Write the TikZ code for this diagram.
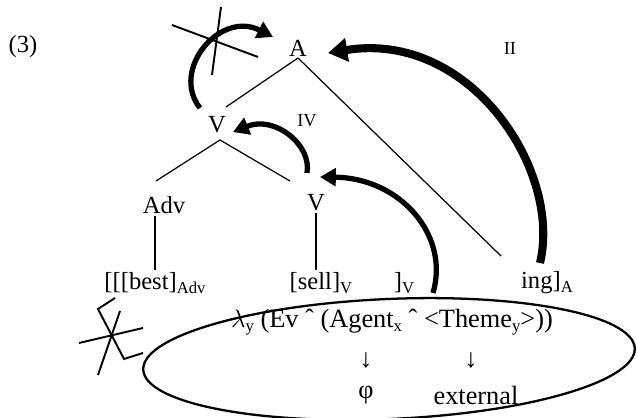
\documentclass[tikz,border=0pt]{standalone}
\usepackage{fontspec}
\setmainfont{Liberation Serif}
\usetikzlibrary{arrows.meta}

\newcommand{\lowidx}[1]{\raisebox{-0.35ex}{\fontsize{9.5}{9.5}\selectfont #1}}

\tikzset{
  lbl/.style={inner sep=1pt, font=\fontsize{14}{16}\selectfont},
  sem/.style={inner sep=1pt, font=\fontsize{15}{17}\selectfont},
  roman/.style={inner sep=1pt, font=\fontsize{10.5}{12}\selectfont},
  tree/.style={line width=0.7pt},
  strike/.style={line width=1.1pt},
  move/.style={line width=3pt, -{Triangle[length=9pt,width=10pt]}},
  bigmove/.style={line width=4.6pt, -{Triangle[length=11pt,width=13pt]}},
}

\begin{document}
\begin{tikzpicture}[x=0.02cm, y=-0.02cm]
  \useasboundingbox (0,0) rectangle (637,418);

  % labels
  \node[lbl] (ex) at (23,47) {(3)};
  \node[lbl] (A) at (298,48) {A};
  \node[lbl] (V1) at (217,125) {V};
  \node[lbl] (Adv) at (164,205) {Adv};
  \node[lbl] (V2) at (316,203) {V};
  \node[lbl] (best) at (155,283) {[[[best]\lowidx{Adv}};
  \node[lbl] (sell) at (321,283) {[sell]\lowidx{V}};
  \node[lbl] (brV) at (404,283) {]\lowidx{V}};
  \node[lbl] (ing) at (547,283) {ing]\lowidx{A}};
  \node[roman] (II) at (510,48) {II};
  \node[roman] (IV) at (307,121) {IV};

  % tree
  \coordinate (aTop) at (298,58);
  \coordinate (aL) at (226,107);
  \coordinate (aR) at (501,256);
  \coordinate (vTop) at (220,140);
  \coordinate (vL) at (156,181);
  \coordinate (vR) at (290,181);
  \draw[tree] (aTop) -- (aL);
  \draw[tree] (aTop) -- (aR);
  \draw[tree] (vTop) -- (vL);
  \draw[tree] (vTop) -- (vR);
  \draw[tree] (Adv.south -| best.north) -- (best.north);
  \draw[tree] (V2.south) -- (V2.south |- sell.north);

  % semantics
  \draw[line width=1.3pt] (389,359) ellipse[x radius=246, y radius=60, rotate=2.5];
  \node[sem] (lam) at (392,322) {$\lambda$\lowidx{y} (Ev ˆ (Agent\lowidx{x} ˆ <Theme\lowidx{y}>))};
  \node[sem] (d1) at (366,360) {↓};
  \node[sem] (d2) at (471,360) {↓};
  \node[sem] (phi) at (366,395) {φ};
  \node[sem] (ext) at (476,395) {external};

  % movements
  \coordinate (mvS) at (200,108);
  \coordinate (mvE) at (273,37);
  \draw[move] (mvS) .. controls (170,70) and (220,10) .. (mvE);
  \coordinate (ivS) at (307,173);
  \coordinate (ivE) at (233,132);
  \draw[move] (ivS) .. controls (312,145) and (275,115) .. (ivE);
  \coordinate (vS) at (433,293);
  \coordinate (vE) at (320,177);
  \draw[move] (vS) .. controls (450,235) and (400,178) .. (vE);
  \coordinate (iiS) at (540,263);
  \coordinate (iiE) at (328,53);
  \draw[bigmove] (iiS) .. controls (562,170) and (470,30) .. (iiE);

  % crossed out
  \draw[strike] (172,25) -- (258,57);
  \draw[strike] (221,7) -- (212,75);
  \draw[strike] (79,343) -- (143,328);
  \draw[strike] (98,375) -- (120,311);
  \draw[strike] (115,298) -- (98,309) -- (124,359) -- (143,353);
\end{tikzpicture}
\end{document}
